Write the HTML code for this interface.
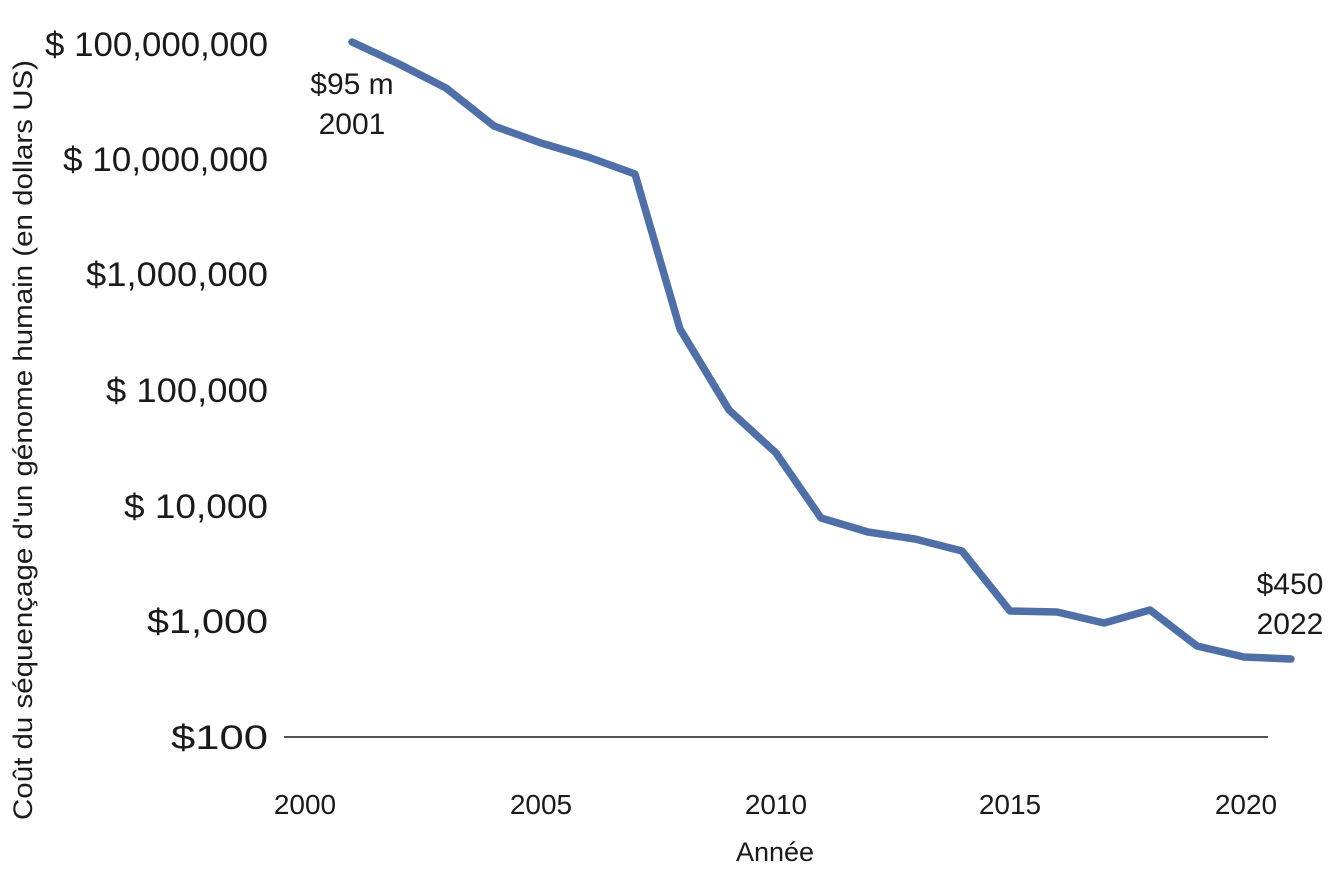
<!DOCTYPE html>
<html><head><meta charset="utf-8"><style>
html,body{margin:0;padding:0;background:#fff;}
svg{display:block;}
text{font-family:"Liberation Sans",sans-serif;fill:#1a1a1a;font-size:28px;}
text.y{font-size:34px;}
text.a{font-size:30px;}
text.t{font-size:27px;}
</style></head><body>
<svg width="1334" height="882" viewBox="0 0 1334 882" xmlns="http://www.w3.org/2000/svg">
<g text-anchor="end">
<text class="y" x="268" y="56" textLength="223" lengthAdjust="spacingAndGlyphs">$ 100,000,000</text>
<text class="y" x="268" y="171" textLength="205" lengthAdjust="spacingAndGlyphs">$ 10,000,000</text>
<text class="y" x="268" y="286" textLength="182" lengthAdjust="spacingAndGlyphs">$1,000,000</text>
<text class="y" x="268" y="402" textLength="162" lengthAdjust="spacingAndGlyphs">$ 100,000</text>
<text class="y" x="268" y="518" textLength="144" lengthAdjust="spacingAndGlyphs">$ 10,000</text>
<text class="y" x="268" y="633" textLength="121" lengthAdjust="spacingAndGlyphs">$1,000</text>
<text class="y" x="268" y="749" textLength="97" lengthAdjust="spacingAndGlyphs">$100</text>
</g>
<line x1="284" y1="737" x2="1268" y2="737" stroke="#1a1a1a" stroke-width="1.5"/>
<g text-anchor="middle">
<text x="305" y="814">2000</text>
<text x="541" y="814">2005</text>
<text x="776" y="814">2010</text>
<text x="1010" y="814">2015</text>
<text x="1246" y="814">2020</text>
<text class="t" x="775" y="861">Année</text>
<text class="a" x="352" y="94">$95 m</text>
<text class="a" x="352" y="134">2001</text>
<text class="a" x="1290" y="594">$450</text>
<text class="a" x="1290" y="634">2022</text>
</g>
<text class="t" transform="translate(32,440) rotate(-90)" text-anchor="middle" textLength="760" lengthAdjust="spacingAndGlyphs">Coût du séquençage d'un génome humain (en dollars US)</text>
<polyline fill="none" stroke="#4f6fa8" stroke-width="7.5" stroke-linejoin="round" stroke-linecap="round"
points="352,42 399,64 446,88 494,126 541,143 588,157 635,174 680,329 729,410 776,453 821,518 868,532 915,539 962,551 1010,611 1057,612 1104,623 1150,610 1197,646 1244,657 1291,659"/>
</svg>
</body></html>
